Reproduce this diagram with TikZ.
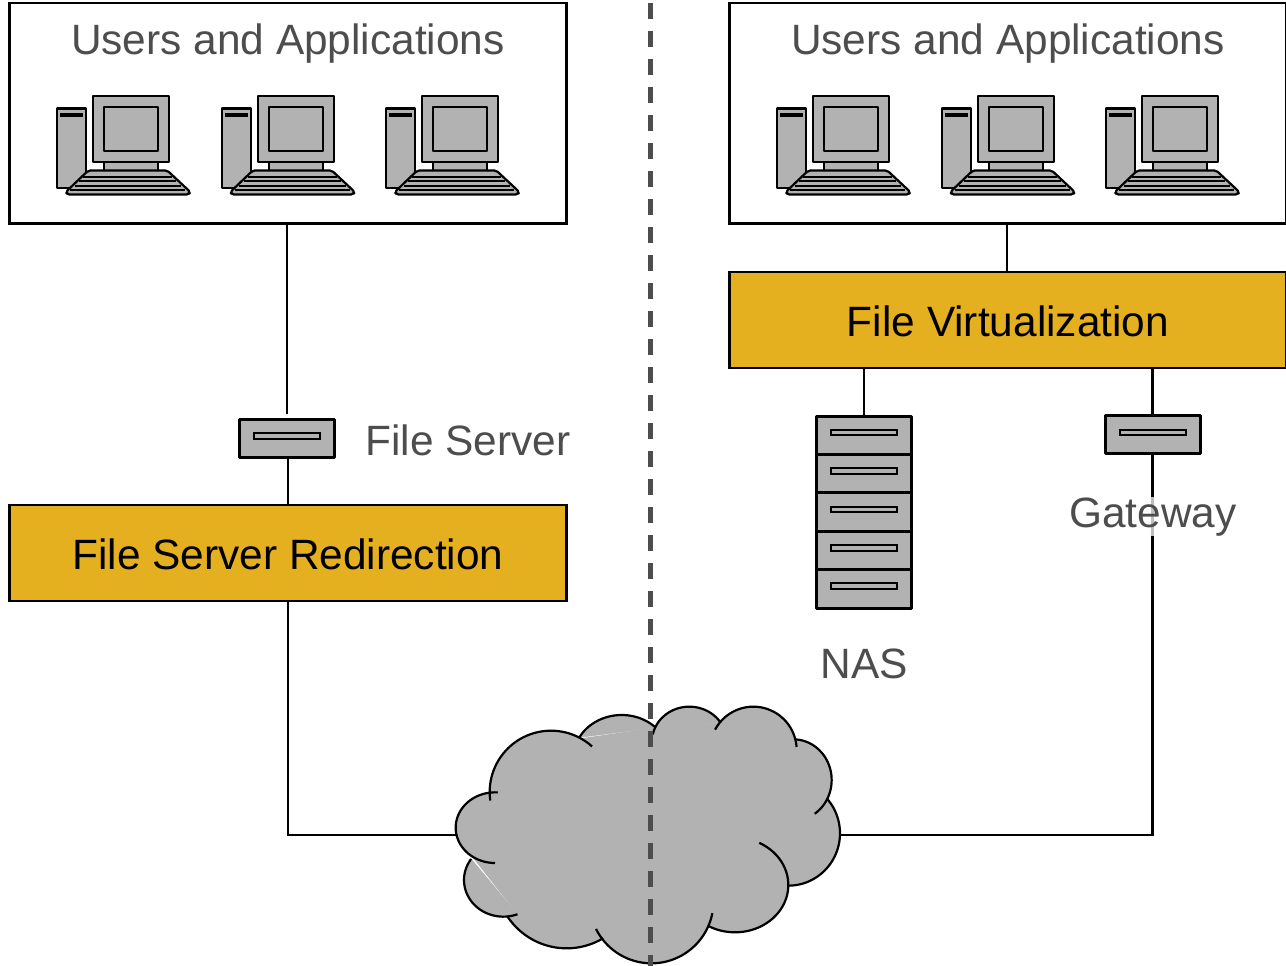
\documentclass[tikz,border=0pt]{standalone}
\usepackage{fontspec}
\setmainfont{Liberation Sans}
\definecolor{gold}{HTML}{E5B01F}
\definecolor{kit}{HTML}{B2B2B2}
\definecolor{lbl}{HTML}{4D4D4D}
\tikzset{
 x=1pt,y=-1pt,
 conn/.style={draw=black,line width=2.2pt},
 whitebox/.style={draw=black,line width=2.2pt,fill=white,inner sep=0,minimum width=557pt,minimum height=220.5pt},
 goldbox/.style={draw=black,line width=2.2pt,fill=gold,inner sep=0,minimum width=557pt,minimum height=96pt},
 txt/.style={font=\fontsize{42.4}{46}\selectfont,inner sep=0,anchor=base},
 grey/.style={txt,text=lbl},
 unit/.style={draw=black,line width=3pt,fill=kit,inner sep=0,minimum width=95pt,minimum height=38.4pt,line join=round},
 slot/.style={draw=black,line width=2pt,fill=kit,inner sep=0,minimum width=66pt,minimum height=5.5pt},
 kitline/.style={draw=black,line width=2.2pt,fill=kit,line join=round},
 kbline/.style={draw=black,line width=2.2pt},
 computer/.pic={
  \path[kitline] (0,12.5) rectangle (29,92);
  \fill[black] (3,17) rectangle (26,21);
  \path[kitline] (47,66) rectangle (101,76);
  \path[kitline] (36,0) rectangle (112,66);
  \path[kitline] (47,11) rectangle (101,55);
  \path[kitline,rounded corners=2pt] (31,74.5) -- (110,74.5) -- (133,96) -- (131.5,98.5) -- (10,98.5) -- (8.5,96) -- cycle;
  \draw[kbline] (26,80.7) -- (115,80.7);
  \draw[kbline] (22,85) -- (119,85);
  \draw[kbline] (17.5,89.7) -- (124,89.7);
  \draw[kbline] (13,94) -- (128,94);
 }
}
\begin{document}
\begin{tikzpicture}
\useasboundingbox (0,0) rectangle (1286,966);
\fill[white] (0,0) rectangle (1286,966);

\coordinate (cloudL) at (456,835);
\coordinate (cloudR) at (840,835);

\node[whitebox] (usersL) at (288,113.25) {};
\node[whitebox] (usersR) at (1008,113.25) {};
\node[goldbox] (redir) at (288,553.25) {};
\node[goldbox] (virt) at (1008,320) {};
\node[unit] (fs) at (287,438.5) {};
\node[slot] (fsslot) at (287,436) {};
\node[unit] (gw) at (1152.5,434.5) {};
\node[slot] (gwslot) at (1152.5,432.5) {};
\node[unit] (n1) at (864,435.2) {};
\node[unit] (n2) at (864,473.6) {};
\node[unit] (n3) at (864,512) {};
\node[unit] (n4) at (864,550.4) {};
\node[unit] (n5) at (864,588.8) {};
\node[slot] (s1) at (864,432.5) {};
\node[slot] (s2) at (864,471) {};
\node[slot] (s3) at (864,509.5) {};
\node[slot] (s4) at (864,548) {};
\node[slot] (s5) at (864,586) {};

\foreach \dx in {0,164.5,329,720,884.5,1049} \pic at ({57.3+\dx},96) {computer};

\draw[conn,shorten >=3.5pt] (usersL.south -| fs.north) -- (fs.north);
\draw[conn] (redir.north) -- (redir.north |- fs.south);
\draw[conn] ([xshift=-1pt]usersR.south) -- ([xshift=-1pt]virt.north);
\draw[conn] (virt.south -| n1.north) -- (n1.north);
\draw[conn] (virt.south -| gw.north) -- (gw.north);
\draw[conn] (redir.south) |- (cloudL);
\draw[conn] (gw.south) |- (cloudR);

\def\cloudlobes{%
 \lobe{165}{413}{118}{106}{90}{274}%
 \lobe{190}{570}{118}{110}{215}{69}%
 \lobe{380}{562}{213}{213}{147}{59}%
 \lobe{634.5}{634}{186}{186}{153.5}{11}%
 \lobe{885}{585}{160}{142}{120}{-63}%
 \lobe{1045}{430}{155}{157}{90}{-42}%
 \lobe{1060}{270}{115}{122}{56}{-88}%
 \lobe{940}{180}{130}{130}{-4}{-152}%
 \lobe{748}{155}{112}{105}{-35}{-168}%
 \lobe{545}{205}{145}{130}{-45}{-151}%
 \lobe{333}{306}{184}{184}{-48}{-188}%
}
\begin{scope}[shift={(440,690)},scale=1/3]
 \fill[kit] (160,307)--(172,519)--(100,505)--(232,673)--(205,680)--(490,750)--(817,670)--(808,705)--(958,460)--(1045,587)--(1165,325)--(1125,372)--(1065,148)--(825,120)--(840,95)--(637,133)--(650,112)--(422,145)--(455,168)--cycle;
 \fill[kit] (180,330)--(130,510)--(230,660)--(480,720)--(800,690)--(1020,580)--(1120,340)--(1050,170)--(830,130)--(640,140)--(440,170)--cycle;
 \def\lobe#1#2#3#4#5#6{\filldraw[kit,line width=0.6pt] plot[domain=#5:#6,samples=40] ({#1+#3*cos(\x)},{#2+#4*sin(\x)}) -- cycle;}
 \cloudlobes
 \def\lobe#1#2#3#4#5#6{\draw[conn] plot[domain=#5:#6,samples=40] ({#1+#3*cos(\x)},{#2+#4*sin(\x)});}
 \cloudlobes
\end{scope}

\draw[lbl,line width=4.2pt,dash pattern=on 16pt off 12pt] (650.5,3) -- (650.5,966);

\node[grey] (tL) at (288,55) {Users and Applications};
\node[grey] (tR) at (1008,55) {Users and Applications};
\node[txt] (tRedir) at (288,569) {File Server Redirection};
\node[txt] (tVirt) at (1008,336) {File Virtualization};
\node[grey] (tFs) at (468,455) {File Server};
\node[grey,fill=white,fill opacity=0.75,text opacity=1] (tGw) at (1153,527) {Gateway};
\node[grey] (tNas) at (864,678) {NAS};
\end{tikzpicture}
\end{document}
